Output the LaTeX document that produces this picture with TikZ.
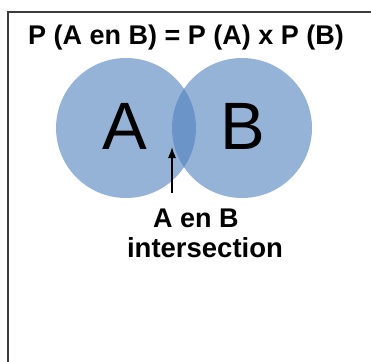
\documentclass[tikz,border=0pt]{standalone}
\usepackage{fontspec}
\setmainfont{Liberation Sans}
\usepackage{tikz}
\usetikzlibrary{arrows.meta}
\definecolor{vennblue}{RGB}{79,129,189}
\definecolor{framegray}{RGB}{60,60,60}

\begin{document}
\begin{tikzpicture}[x=1pt, y=-1pt,
    setcircle/.style={fill=vennblue, fill opacity=0.6},
    biglabel/.style={font=\fontsize{67}{67}\selectfont},
    boldlabel/.style={font=\fontsize{27}{30}\selectfont\bfseries, inner sep=0pt}]
    \useasboundingbox (0,0) rectangle (371,361);
    \draw[framegray, line width=1.3pt] (8,375) -- (8,12) -- (380,12);

    \node[boldlabel] (formula) at (186,38) {P (A en B) = P (A) x P (B)};

    \fill[setcircle] (126,128) circle [radius=70pt];
    \fill[setcircle] (242,128) circle [radius=70pt];
    \node[biglabel] (setA) at (125,126) {A};
    \node[biglabel] (setB) at (243,126) {B};

    \node[boldlabel] (overlap) at (196,218) {A en B};
    \node[boldlabel, font=\fontsize{27.5}{30}\selectfont\bfseries] (name) at (205,248) {intersection};

    \coordinate (tail) at (172,193);
    \coordinate (tip) at (172,147);
    \draw[-{Latex[length=11pt,width=8pt]}, line width=1.2pt] (tail) -- (tip);
\end{tikzpicture}
\end{document}
